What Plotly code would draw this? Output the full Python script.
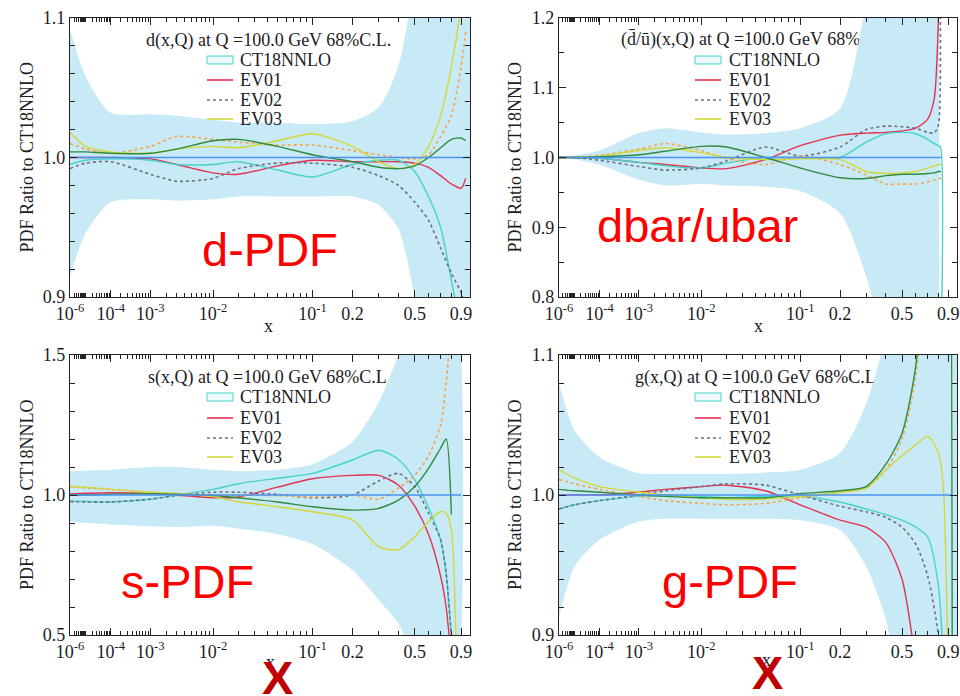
import numpy as np
import plotly.graph_objects as go

W, H = 960, 696
SERIF = "Liberation Serif"
SANS = "Liberation Sans"
TXT = "#1c1c24"
BAND = "#c8e9f6"
C_RED, C_CYAN, C_GRAY, C_ORANGE, C_YEL, C_GREEN, C_BLUE = (
    "#e3324e", "#45d3cb", "#6e6e80", "#f4a444", "#d2d83a", "#2f8a3c", "#4a92f2")

# ---------------- data (ratio to CT18NNLO) ----------------
LEGEND_NAMES = ["CT18NNLO", "EV01", "EV02", "EV03"]

# d(x,Q)
X_D = [1e-6, 1e-5, 1e-4, 1e-3, 3e-3, 1e-2, 2e-2, 5e-2, 0.1, 0.2, 0.3, 0.4, 0.5, 0.6, 0.7, 0.8, 0.9, 0.95]
D_HI = [1.092, 1.058, 1.032, 1.031, 1.030, 1.027, 1.025, 1.025, 1.024, 1.026, 1.036, 1.066, 1.13, 1.2, 1.2, 1.2, 1.2, 1.2]
D_LO = [0.915, 0.946, 0.968, 0.970, 0.969, 0.970, 0.972, 0.972, 0.972, 0.972, 0.966, 0.949, 0.90, 0.85, 0.8, 0.8, 0.8, 0.8]
D_EV01 = [1.0, 1.0, 1.0, 0.999, 0.995, 0.989, 0.988, 0.994, 0.998, 0.997, 0.997, 0.997, 0.996, 0.993, 0.987, 0.981, 0.978, 0.985]
D_EV01M = [0.995, 0.998, 0.999, 0.998, 0.995, 0.995, 0.997, 0.991, 0.986, 0.995, 0.998, 0.998, 0.99, 0.972, 0.95, 0.912, 0.875, 0.85]
D_EV02 = [0.992, 0.996, 0.997, 0.988, 0.983, 0.985, 0.992, 0.996, 0.996, 0.993, 0.987, 0.98, 0.968, 0.955, 0.935, 0.917, 0.903, 0.89]
D_EV02M = [1.010, 1.006, 1.003, 1.008, 1.015, 1.013, 1.011, 1.009, 1.009, 1.005, 1.002, 1.000, 0.999, 1.002, 1.015, 1.03, 1.065, 1.09]
D_EV03 = [1.018, 1.008, 1.004, 1.003, 1.006, 1.008, 1.007, 1.012, 1.017, 1.008, 0.997, 0.992, 0.995, 1.008, 1.03, 1.065, 1.11, 1.15]
D_EV03M = [1.004, 1.004, 1.003, 1.003, 1.006, 1.012, 1.013, 1.008, 1.002, 0.997, 0.993, 0.992, 0.994, 1.0, 1.007, 1.013, 1.014, 1.012]
D_CX = [1e-6, 1.0]

# (dbar/ubar)(x,Q)
X_DU = [1e-6, 1e-5, 1e-4, 1e-3, 3e-3, 1e-2, 2e-2, 5e-2, 0.1, 0.2, 0.3, 0.4, 0.5, 0.6, 0.7, 0.76, 0.8, 0.82, 0.825]
DU_HI = [1.0, 1.003, 1.01, 1.035, 1.042, 1.036, 1.033, 1.035, 1.042, 1.07, 1.22, 1.35, 1.4, 1.4, 1.4, 1.4, 1.35, 1.0, 1.0]
DU_LO = [1.0, 0.997, 0.99, 0.968, 0.96, 0.962, 0.96, 0.958, 0.952, 0.92, 0.83, 0.72, 0.65, 0.6, 0.6, 0.6, 0.65, 1.0, 1.0]
DU_EV01 = [1.0, 1.0, 0.999, 0.993, 0.99, 0.985, 0.984, 0.997, 1.017, 1.032, 1.035, 1.036, 1.038, 1.042, 1.055, 1.085, 1.2, 1.35, 1.4]
DU_EV01M = [1.0, 1.0, 0.999, 0.993, 0.988, 0.985, 0.992, 1.0, 1.0, 1.0, 1.022, 1.034, 1.036, 1.034, 1.026, 1.02, 1.017, 1.015, 0.7]
DU_EV02 = [1.0, 1.0, 0.996, 0.987, 0.982, 0.985, 0.995, 1.015, 1.002, 1.015, 1.04, 1.045, 1.044, 1.042, 1.036, 1.035, 1.047, 1.2, 1.3]
DU_EV02M = [1.0, 1.0, 1.003, 1.012, 1.02, 1.01, 0.998, 0.99, 1.002, 0.99, 0.975, 0.962, 0.962, 0.962, 0.965, 0.968, 0.97, 0.97, 0.97]
DU_EV03 = [1.0, 1.0, 1.002, 1.01, 1.014, 1.007, 1.0, 0.997, 0.998, 0.997, 0.98, 0.977, 0.978, 0.98, 0.985, 0.988, 0.99, 0.99, 0.99]
DU_EV03M = [1.0, 1.0, 1.001, 1.004, 1.009, 1.016, 1.015, 1.0, 0.985, 0.971, 0.97, 0.974, 0.976, 0.976, 0.977, 0.978, 0.98, 0.98, 0.98]
DU_CX = [1e-6, 0.83]

# s(x,Q)
X_S = [1e-6, 1e-5, 1e-4, 1e-3, 3e-3, 1e-2, 2e-2, 5e-2, 0.1, 0.2, 0.3, 0.4, 0.5, 0.6, 0.7, 0.75, 0.8, 0.85]
S_HI = [1.085, 1.087, 1.09, 1.1, 1.1, 1.09, 1.085, 1.09, 1.11, 1.19, 1.33, 1.5, 1.65, 1.7, 1.7, 1.7, 1.7, 1.7]
S_LO = [0.905, 0.9, 0.895, 0.888, 0.885, 0.89, 0.88, 0.86, 0.825, 0.732, 0.625, 0.54, 0.4, 0.3, 0.3, 0.3, 0.3, 0.3]
S_EV01 = [1.004, 1.006, 1.008, 1.005, 1.0, 0.99, 0.993, 1.028, 1.058, 1.07, 1.07, 1.035, 0.96, 0.86, 0.71, 0.6, 0.42, 0.3]
S_EV01M = [0.978, 0.977, 0.975, 0.985, 1.0, 1.02, 1.04, 1.06, 1.077, 1.125, 1.16, 1.127, 1.055, 0.955, 0.84, 0.72, 0.5, 0.3]
S_EV02 = [0.977, 0.975, 0.975, 0.985, 0.998, 1.01, 1.01, 1.002, 0.99, 1.0, 1.05, 1.077, 1.03, 0.935, 0.84, 0.72, 0.5, 0.3]
S_EV02M = [1.03, 1.025, 1.02, 1.01, 1.005, 1.0, 1.0, 0.998, 0.993, 1.0, 0.985, 1.025, 1.07, 1.14, 1.25, 1.4, 1.6, 1.7]
S_EV03 = [1.03, 1.028, 1.02, 1.01, 1.005, 0.994, 0.976, 0.958, 0.94, 0.911, 0.815, 0.805, 0.851, 0.905, 0.94, 0.935, 0.875, 0.4]
S_EV03M = [1.0, 1.0, 1.003, 1.005, 1.003, 0.998, 0.99, 0.975, 0.958, 0.946, 0.952, 0.982, 1.03, 1.095, 1.167, 1.2, 0.93, None]
S_CX = [1e-6, 0.9]

# g(x,Q)
X_G = [1e-6, 1e-5, 1e-4, 1e-3, 3e-3, 1e-2, 2e-2, 5e-2, 0.1, 0.2, 0.3, 0.4, 0.5, 0.6, 0.7, 0.8, 0.85, 0.9, 0.95]
G_HI = [1.08, 1.046, 1.027, 1.0155, 1.015, 1.015, 1.015, 1.016, 1.018, 1.03, 1.065, 1.115, 1.2, 1.25, 1.25, 1.25, 1.25, 1.25, 1.25]
G_LO = [0.913, 0.949, 0.968, 0.981, 0.983, 0.983, 0.983, 0.983, 0.982, 0.975, 0.949, 0.911, 0.85, 0.8, 0.8, 0.8, 0.8, 0.8, 0.8]
G_EV01 = [1.0, 1.0, 1.0, 1.002, 1.004, 1.006, 1.007, 1.003, 0.993, 0.982, 0.977, 0.966, 0.94, 0.88, 0.8, 0.7, 0.65, 0.6, 0.6]
G_EV01M = [0.99, 0.993, 0.996, 0.999, 1.0, 0.999, 0.998, 0.999, 0.999, 0.995, 0.99, 0.986, 0.982, 0.977, 0.97, 0.935, 0.88, 0.8, 0.75]
G_EV02 = [0.99, 0.993, 0.996, 1.0, 1.003, 1.006, 1.008, 1.007, 1.0, 0.992, 0.988, 0.984, 0.977, 0.965, 0.942, 0.9, 0.86, 0.8, 0.75]
G_EV02M = [1.011, 1.008, 1.004, 0.999, 0.996, 0.994, 0.993, 0.994, 0.998, 1.002, 1.005, 1.018, 1.04, 1.085, 1.19, 1.3, 1.35, 1.4, 1.4]
G_EV03 = [1.018, 1.012, 1.006, 1.002, 1.0, 0.998, 0.997, 0.997, 0.999, 1.002, 1.005, 1.018, 1.028, 1.036, 1.042, 1.03, 1.005, 0.88, 0.8]
G_EV03M = [1.004, 1.003, 1.002, 1.0, 0.999, 0.998, 0.998, 0.998, 1.001, 1.003, 1.006, 1.022, 1.044, 1.092, 1.2, 1.3, 1.35, 1.4, 0.6]
G_CX = [1e-6, 0.95]

# axis ticks
X_MAJOR = [1e-6, 1e-4, 1e-3, 1e-2, 0.1, 0.2, 0.5, 0.9]
X_MAJOR_TEXT = ["10<sup>-6</sup>", "10<sup>-4</sup>", "10<sup>-3</sup>", "10<sup>-2</sup>",
                "10<sup>-1</sup>", "0.2", "0.5", "0.9"]
X_MINOR = [k * 10.0 ** n for n in range(-6, -1) for k in range(2, 10)] + [1e-5, 0.3, 0.4, 0.6, 0.7, 0.8]

PANELS = [
    dict(x=X_D, hi=D_HI, lo=D_LO, ev=[D_EV01, D_EV01M, D_EV02, D_EV02M, D_EV03, D_EV03M], cx=D_CX,
         yr=[0.9, 1.1], ymaj=[0.9, 1.0, 1.1], ymin=[0.92, 0.94, 0.96, 0.98, 1.02, 1.04, 1.06, 1.08],
         box=(70, 470, 18, 297), title="d(x,Q) at Q =100.0 GeV 68%C.L.", tpx=(143, 38),
         leg=(207, 238, [60, 80, 100, 119]), label="d-PDF", lpx=(270, 249), ytx=27, xt=(268, 326)),
    dict(x=X_DU, hi=DU_HI, lo=DU_LO, ev=[DU_EV01, DU_EV01M, DU_EV02, DU_EV02M, DU_EV03, DU_EV03M], cx=DU_CX,
         yr=[0.8, 1.2], ymaj=[0.8, 0.9, 1.0, 1.1, 1.2], ymin=[0.85, 0.95, 1.05, 1.15],
         box=(559, 957, 18, 297), title="(d\u0304/u\u0304)(x,Q) at Q =100.0 GeV 68%C.L.", tpx=(618, 38),
         leg=(695, 727, [60, 80, 100, 119]), label="dbar/ubar", lpx=(697, 226), ytx=515, xt=(758, 326)),
    dict(x=X_S, hi=S_HI, lo=S_LO, ev=[S_EV01, S_EV01M, S_EV02, S_EV02M, S_EV03, S_EV03M], cx=S_CX,
         yr=[0.5, 1.5], ymaj=[0.5, 1.0, 1.5], ymin=[0.6, 0.7, 0.8, 0.9, 1.1, 1.2, 1.3, 1.4],
         box=(70, 470, 355, 635), title="s(x,Q) at Q =100.0 GeV 68%C.L.", tpx=(145, 375),
         leg=(207, 238, [397, 418, 438, 457]), label="s-PDF", lpx=(187, 581), ytx=27, xt=(270, 662)),
    dict(x=X_G, hi=G_HI, lo=G_LO, ev=[G_EV01, G_EV01M, G_EV02, G_EV02M, G_EV03, G_EV03M], cx=G_CX,
         yr=[0.9, 1.1], ymaj=[0.9, 1.0, 1.1], ymin=[0.92, 0.94, 0.96, 0.98, 1.02, 1.04, 1.06, 1.08],
         box=(559, 957, 355, 635), title="g(x,Q) at Q =100.0 GeV 68%C.L.", tpx=(632, 375),
         leg=(695, 727, [397, 418, 438, 457]), label="g-PDF", lpx=(730, 581), ytx=515, xt=(766, 660)),
]

EV_STYLE = [(C_RED, "solid", "EV01"), (C_CYAN, "solid", "EV01 (-)"), (C_GRAY, "dot", "EV02"),
            (C_ORANGE, "dot", "EV02 (-)"), (C_YEL, "solid", "EV03"), (C_GREEN, "solid", "EV03 (-)")]


def u(v):
    return np.power(np.asarray(v, dtype=float), 0.2)


def PX(px):
    return px / W


def PY(py):
    return 1 - py / H


fig = go.Figure()
layout = dict(width=W, height=H, margin=dict(l=0, r=0, t=0, b=0), template="none",
              paper_bgcolor="white", plot_bgcolor="white", showlegend=False)
shapes, annotations = [], []

for i, P in enumerate(PANELS):
    sfx = "" if i == 0 else str(i + 1)
    xa, ya = "x" + sfx, "y" + sfx
    ux = u(P["x"])
    fig.add_trace(go.Scatter(
        x=np.concatenate([ux, ux[::-1]]), y=list(P["hi"]) + list(P["lo"])[::-1],
        fill="toself", fillcolor=BAND, mode="lines",
        line=dict(width=0, color=BAND, shape="spline", smoothing=0.7),
        xaxis=xa, yaxis=ya, hoverinfo="skip", name="CT18NNLO band"))
    for vals, (col, dash, nm) in zip(P["ev"], EV_STYLE):
        fig.add_trace(go.Scatter(
            x=ux, y=vals, mode="lines", name=nm,
            line=dict(color=col, width=1.4 if dash == "solid" else 1.6, dash=dash,
                      shape="spline", smoothing=0.7),
            xaxis=xa, yaxis=ya))
    fig.add_trace(go.Scatter(x=u(P["cx"]), y=[1.0, 1.0], mode="lines", name="CT18NNLO",
                             line=dict(color=C_BLUE, width=1.6), xaxis=xa, yaxis=ya))

    left, right, top, bottom = P["box"]
    pw, ph = right - left, bottom - top
    axis_common = dict(showline=True, linecolor="#222", linewidth=1.4, mirror="ticks",
                       ticks="inside", tickcolor="#222", tickwidth=1, showgrid=False,
                       zeroline=False, automargin=False,
                       tickfont=dict(family=SERIF, size=18, color=TXT))
    layout["xaxis" + sfx] = dict(
        axis_common, domain=[PX(left), PX(right)], anchor=ya, range=[float(u(1e-6)), 1.0],
        tickmode="array", tickvals=list(u(X_MAJOR)), ticktext=X_MAJOR_TEXT, ticklen=7,
        minor=dict(tickmode="array", tickvals=list(u(X_MINOR)), ticks="inside", ticklen=4,
                   tickcolor="#222", showgrid=False))
    layout["yaxis" + sfx] = dict(
        axis_common, domain=[PY(bottom), PY(top)], anchor=xa, range=P["yr"],
        tickmode="array", tickvals=P["ymaj"], ticktext=["%.1f" % v for v in P["ymaj"]], ticklen=7,
        minor=dict(tickmode="array", tickvals=P["ymin"], ticks="inside", ticklen=5,
                   tickcolor="#222", showgrid=False))

    # panel title (under the band, as in the original)
    tx, ty = P["tpx"]
    shapes.append(dict(
        type="rect", xref=xa + " domain", yref=ya + " domain", layer="below",
        x0=(tx - left) / pw, x1=(tx - left + 320) / pw,
        y0=(bottom - ty - 10) / ph, y1=(bottom - ty + 10) / ph,
        line=dict(width=0), fillcolor="rgba(0,0,0,0)",
        label=dict(text=P["title"], textposition="middle left", padding=0,
                   font=dict(family=SERIF, size=18, color=TXT))))

    # legend block
    sx, txx, rows = P["leg"]
    shapes.append(dict(type="rect", xref="paper", yref="paper", x0=PX(sx), x1=PX(sx + 26),
                       y0=PY(rows[0] + 4), y1=PY(rows[0] - 4), fillcolor="#eef9fc",
                       line=dict(color=C_CYAN, width=1)))
    for r, (col, dash) in zip(rows[1:], [(C_RED, "solid"), (C_GRAY, "dot"), (C_YEL, "solid")]):
        shapes.append(dict(type="line", xref="paper", yref="paper", x0=PX(sx), x1=PX(sx + 26),
                           y0=PY(r), y1=PY(r), line=dict(color=col, width=1.6, dash=dash)))
    for r, nm in zip(rows, LEGEND_NAMES):
        annotations.append(dict(text=nm, xref="paper", yref="paper", x=PX(txx), y=PY(r),
                                xanchor="left", yanchor="middle", showarrow=False,
                                font=dict(family=SERIF, size=18, color=TXT)))

    # axis titles
    annotations.append(dict(text="PDF Ratio to CT18NNLO", xref="paper", yref="paper",
                            x=PX(P["ytx"]), y=PY((top + bottom) / 2), textangle=-90,
                            xanchor="center", yanchor="middle", showarrow=False,
                            font=dict(family=SERIF, size=18, color=TXT)))
    xtx, xty = P["xt"]
    annotations.append(dict(text="x", xref="paper", yref="paper", x=PX(xtx), y=PY(xty),
                            xanchor="center", yanchor="middle", showarrow=False,
                            font=dict(family=SERIF, size=18, color=TXT)))

# big red labels
for P in PANELS:
    lx, ly = P["lpx"]
    annotations.append(dict(text=P["label"], xref="paper", yref="paper", x=PX(lx), y=PY(ly),
                            xanchor="center", yanchor="middle", showarrow=False,
                            font=dict(family=SANS, size=47, color="#ff0000")))
for cx, cy in [(277, 673), (767, 668)]:
    annotations.append(dict(text="X", xref="paper", yref="paper", x=PX(cx), y=PY(cy),
                            xanchor="center", yanchor="middle", showarrow=False,
                            height=44, valign="top",
                            font=dict(family=SANS, size=47, color="#c00000", weight="bold")))

layout["shapes"] = shapes
layout["annotations"] = annotations
fig.update_layout(**layout)
fig.write_html("out.html")
